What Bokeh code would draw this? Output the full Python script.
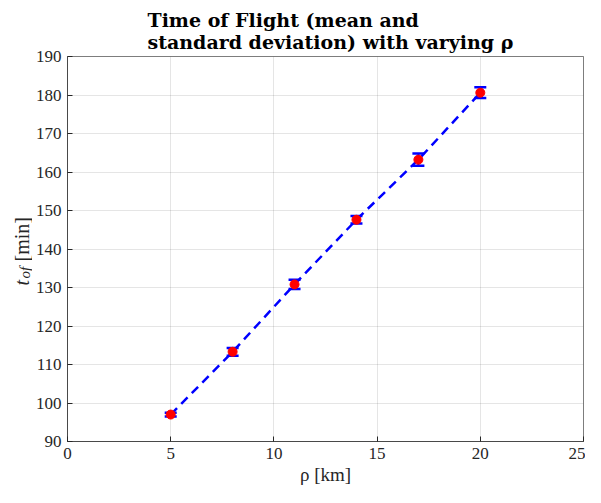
from bokeh.plotting import figure
from bokeh.models import (ColumnDataSource, Whisker, TeeHead, Title, Label,
                          FixedTicker, Range1d)
from bokeh.layouts import row
from bokeh.embed import file_html
from bokeh.resources import INLINE

# ---- data ----
rho = [5, 8, 11, 14, 17, 20]
tof_mean = [97.0, 113.3, 130.8, 147.6, 163.2, 180.6]
tof_std = [0.5, 1.0, 1.2, 1.0, 1.6, 1.4]
x_ticks = [0, 5, 10, 15, 20, 25]
y_ticks = [90, 100, 110, 120, 130, 140, 150, 160, 170, 180, 190]

title_text = "Time of Flight (mean and\nstandard deviation) with varying ρ"
x_label = "ρ [km]"
y_label_main = "t"
y_label_sub = "of"
y_label_unit = "[min]"

SERIF = "Liberation Serif"
TICK_SIZE = "17px"
H = 487
LW = 32  # width of the y-label strip

src = ColumnDataSource(dict(
    x=rho, y=tof_mean,
    upper=[m + s for m, s in zip(tof_mean, tof_std)],
    lower=[m - s for m, s in zip(tof_mean, tof_std)],
))

p = figure(width=585 - LW, height=H, output_backend="svg", toolbar_location=None,
           x_range=Range1d(0, 25), y_range=Range1d(90, 190),
           min_border_left=66 - LW, min_border_right=2, min_border_top=56,
           min_border_bottom=46)
p.background_fill_color = "white"
p.border_fill_color = "white"
p.outline_line_color = "#262626"
p.outline_line_alpha = 0.6

# title
p.title = Title(text=title_text, align="left", offset=80, text_font="DejaVu Serif",
                text_font_style="bold", text_font_size="19px", text_color="black",
                standoff=8)

# axes
for ax, ticks in ((p.xaxis[0], x_ticks), (p.yaxis[0], y_ticks)):
    ax.ticker = FixedTicker(ticks=ticks)
    ax.major_label_text_font = SERIF
    ax.major_label_text_font_size = TICK_SIZE
    ax.major_label_text_color = "#262626"
    ax.axis_line_color = "#262626"
    ax.axis_line_alpha = 0.6
    ax.major_tick_line_color = "#262626"
    ax.major_tick_in = 5
    ax.major_tick_out = 0
    ax.minor_tick_line_color = None
    ax.major_label_standoff = 6

p.xaxis.axis_label = x_label
p.xaxis.axis_label_text_font = SERIF
p.xaxis.axis_label_text_font_size = "19px"
p.xaxis.axis_label_text_font_style = "normal"
p.xaxis.axis_label_text_color = "#262626"
p.xaxis.axis_label_standoff = 2

# grid
p.xgrid.ticker = FixedTicker(ticks=x_ticks)
p.ygrid.ticker = FixedTicker(ticks=y_ticks)
p.grid.grid_line_color = "#262626"
p.grid.grid_line_alpha = 0.12

# data
p.line("x", "y", source=src, line_color="#0000ff", line_width=2.5, line_dash="9 6")
p.add_layout(Whisker(base="x", upper="upper", lower="lower", source=src,
                     line_color="#0000ff", line_width=2,
                     upper_head=TeeHead(size=12, line_color="#0000ff", line_width=2.5),
                     lower_head=TeeHead(size=12, line_color="#0000ff", line_width=2.5)))
p.scatter("x", "y", source=src, marker="circle", size=9, fill_color="#ff0000",
          line_color="#ff0000")

# ---- narrow strip holding the y-axis label (t with subscript "of") ----
lab = figure(width=LW, height=H, output_backend="svg", toolbar_location=None,
             x_range=Range1d(0, 1), y_range=Range1d(0, 1),
             min_border_left=0, min_border_right=0, min_border_top=0,
             min_border_bottom=0)
lab.axis.visible = False
lab.grid.visible = False
lab.outline_line_color = None
lab.background_fill_color = "white"
lab.border_fill_color = "white"
common = dict(x_units="canvas", y_units="canvas", angle=90, angle_units="deg",
              text_font=SERIF, text_color="#262626", text_align="left",
              text_baseline="alphabetic")
lab.add_layout(Label(x=21.5, y=285, text=y_label_main, text_font_style="italic",
                     text_font_size="20px", **common))
lab.add_layout(Label(x=24.5, y=278, text=y_label_sub, text_font_style="italic",
                     text_font_size="15px", **common))
lab.add_layout(Label(x=21.5, y=261, text=y_label_unit, text_font_size="20px", **common))

layout = row(lab, p, spacing=0)
open("out.html", "w").write(file_html(layout, INLINE))
